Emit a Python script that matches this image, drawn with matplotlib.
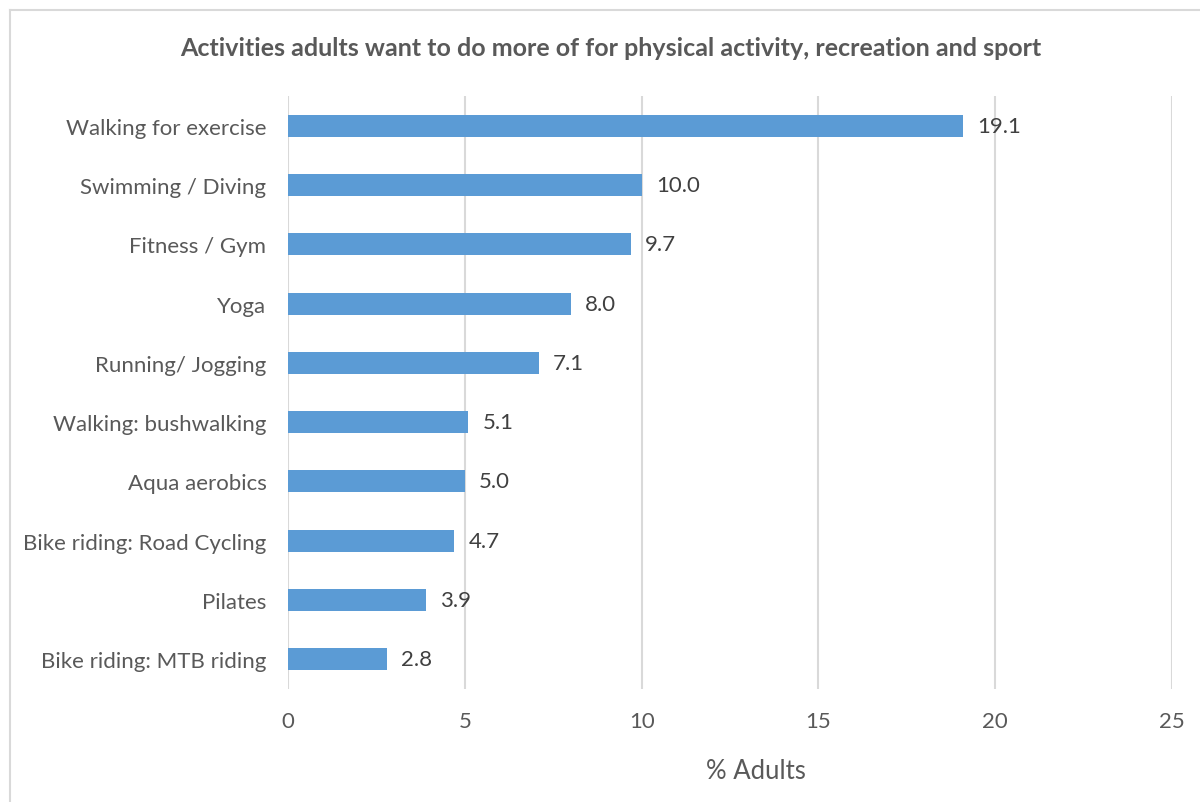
import matplotlib.pyplot as plt
from matplotlib.lines import Line2D

# data (top to bottom)
activities = ["Walking for exercise", "Swimming / Diving", "Fitness / Gym", "Yoga",
              "Running/ Jogging", "Walking: bushwalking", "Aqua aerobics",
              "Bike riding: Road Cycling", "Pilates", "Bike riding: MTB riding"]
percent = [19.1, 10.0, 9.7, 8.0, 7.1, 5.1, 5.0, 4.7, 3.9, 2.8]
xticks = [0, 5, 10, 15, 20, 25]

plt.rcParams['font.family'] = ['Lato', 'DejaVu Sans']
txt = '#595959'

fig = plt.figure(figsize=(12, 8.03), dpi=100)
ax = fig.add_axes([0.24, 0.1407, 0.7367, 0.7385])

ypos = list(range(len(activities)))[::-1]
ax.barh(ypos, percent, height=0.37, color='#5b9bd5', zorder=3)
for y, v in zip(ypos, percent):
    ax.text(v + 0.4, y, f"{v:.1f}", va='center', ha='left', fontsize=16, color='#404040')

ax.set_xlim(0, 25)
ax.set_ylim(-0.5, len(activities) - 0.5)
ax.set_yticks(ypos)
ax.set_yticklabels(activities, fontsize=16, color=txt)
ax.set_xticks(xticks)
ax.set_xticklabels([str(t) for t in xticks], fontsize=16, color=txt)
ax.tick_params(length=0, pad=15.5, axis='y')
ax.tick_params(length=0, pad=16, axis='x')
ax.grid(axis='x', color='#d9d9d9', linewidth=1.5, zorder=0)
for s in ax.spines.values():
    s.set_visible(False)
ax.set_xlabel('% Adults', fontsize=18.5, color=txt)
ax.xaxis.set_label_coords(0.529, -0.117)

fig.text(0.509, 0.94, 'Activities adults want to do more of for physical activity, recreation and sport',
         ha='center', va='center', fontsize=18, fontweight='bold', color=txt)

# chart border: only top and left edges are visible in the crop
fig.lines.append(Line2D([0.0085, 1.0], [0.9865, 0.9865], transform=fig.transFigure,
                        color='#d9d9d9', linewidth=1.5))
fig.lines.append(Line2D([0.0085, 0.0085], [0.0, 0.9865], transform=fig.transFigure,
                        color='#d9d9d9', linewidth=1.5))

plt.savefig('out.png', dpi=100)
